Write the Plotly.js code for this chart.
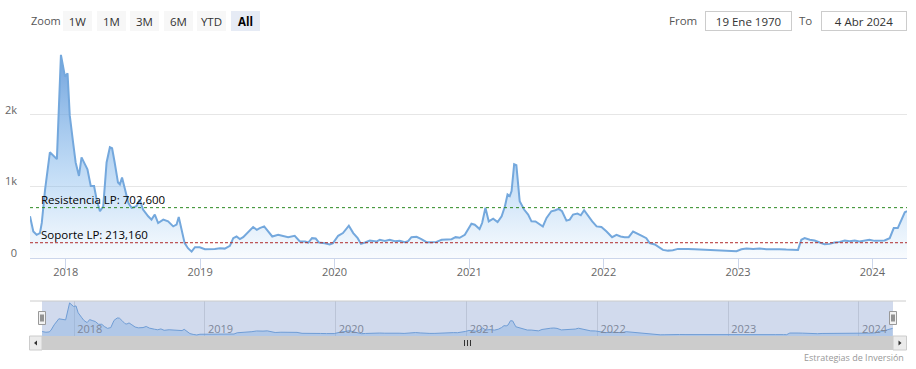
<!DOCTYPE html>
<html><head><meta charset="utf-8">
<script src="https://cdn.plot.ly/plotly-3.0.1.min.js"></script>
<style>html,body{margin:0;padding:0;background:#fff;}#chart{width:916px;height:369px;}</style>
</head><body><div id="chart"></div>
<script>
const dates = [
'2017-09-26','2017-10-05','2017-10-14','2017-10-23','2017-10-28','2017-11-06','2017-11-19','2017-11-28','2017-12-08','2017-12-19',
'2017-12-25','2017-12-30','2018-01-06','2018-01-12','2018-01-21','2018-01-28','2018-02-06','2018-02-13','2018-02-22','2018-03-01',
'2018-03-10','2018-03-19','2018-03-26','2018-04-04','2018-04-13','2018-04-22','2018-05-01','2018-05-07','2018-05-14','2018-05-23',
'2018-05-28','2018-06-03','2018-06-11','2018-06-20','2018-06-29','2018-07-12','2018-07-21','2018-07-30','2018-08-13','2018-08-22',
'2018-08-31','2018-09-09','2018-09-23','2018-10-06','2018-10-20','2018-10-29','2018-11-04','2018-11-11','2018-11-20','2018-11-29',
'2018-12-09','2018-12-18','2018-12-31','2019-01-14','2019-01-23','2019-02-10','2019-02-24','2019-03-09','2019-03-23','2019-04-01',
'2019-04-10','2019-04-19','2019-04-28','2019-05-12','2019-05-25','2019-06-04','2019-06-12','2019-06-24','2019-07-05','2019-07-16',
'2019-08-01','2019-08-15','2019-08-28','2019-09-15','2019-09-29','2019-10-13','2019-10-22','2019-11-01','2019-11-11','2019-11-20',
'2019-12-06','2019-12-19','2019-12-28','2020-01-11','2020-01-24','2020-02-09','2020-02-21','2020-03-04','2020-03-13','2020-03-24',
'2020-04-06','2020-04-24','2020-05-03','2020-05-17','2020-05-30','2020-06-13','2020-06-26','2020-07-10','2020-07-19','2020-07-28',
'2020-08-11','2020-08-24','2020-09-07','2020-09-20','2020-10-04','2020-10-18','2020-10-31','2020-11-14','2020-11-25','2020-12-06',
'2020-12-20','2020-12-29','2021-01-07','2021-01-16','2021-01-29','2021-02-05','2021-02-14','2021-02-23','2021-03-07','2021-03-19',
'2021-03-30','2021-04-08','2021-04-15','2021-04-21','2021-04-26','2021-05-03','2021-05-09','2021-05-18','2021-05-30','2021-06-10',
'2021-06-19','2021-06-30','2021-07-11','2021-07-20','2021-07-30','2021-08-12','2021-08-23','2021-09-01','2021-09-10','2021-09-22',
'2021-10-01','2021-10-10','2021-10-22','2021-10-31','2021-11-09','2021-11-20','2021-12-01','2021-12-13','2021-12-26','2022-01-09',
'2022-01-24','2022-02-05','2022-02-16','2022-02-27','2022-03-10','2022-03-22','2022-04-03','2022-04-15','2022-04-27','2022-05-06',
'2022-05-20','2022-06-02','2022-06-11','2022-06-25','2022-07-08','2022-07-22','2022-08-05','2022-08-18','2022-09-05','2022-09-24',
'2022-10-12','2022-11-03','2022-11-21','2022-12-09','2022-12-28','2023-01-10','2023-01-24','2023-02-11','2023-03-01','2023-03-19',
'2023-04-06','2023-04-24','2023-05-12','2023-06-04','2023-06-13','2023-06-22','2023-07-01','2023-07-15','2023-07-28','2023-08-11',
'2023-08-24','2023-09-07','2023-09-20','2023-10-04','2023-10-18','2023-10-31','2023-11-14','2023-11-27','2023-12-11','2023-12-24',
'2024-01-07','2024-01-21','2024-02-03','2024-02-17','2024-02-28','2024-03-10','2024-03-20','2024-03-29','2024-04-04'
];
const values = [
582,370,324,348,490,958,1475,1427,1380,2835,
2648,2530,2577,1990,1615,1333,1145,1404,1310,1239,
1004,1004,817,652,723,1333,1545,1531,1333,1052,
1028,1122,958,770,700,723,817,676,582,535,
606,488,535,511,441,465,573,394,207,137,
89,150,150,122,122,127,136,131,169,277,
300,263,291,370,432,394,418,441,370,300,
324,310,291,310,230,230,216,277,272,216,
207,188,207,310,348,451,348,277,197,216,
244,230,254,239,254,235,239,221,235,291,
296,263,221,221,225,254,254,263,291,282,
324,394,479,465,404,488,700,511,549,502,
582,723,887,864,934,1310,1296,793,676,606,
511,510,470,440,559,652,666,686,652,521,
535,606,620,596,666,582,511,441,432,370,
291,324,300,291,291,370,334,310,277,207,
188,150,113,103,108,127,131,127,122,117,
113,113,108,103,94,122,131,127,131,122,
127,122,117,117,113,254,277,254,244,216,
193,197,216,225,244,235,244,230,244,254,
239,244,244,277,418,418,535,638,652
];
const years = ['2018','2019','2020','2021','2022','2023','2024'];
const resistance = 702.6, support = 213.16;
const resistanceLabel = 'Resistencia LP: 702,600';
const supportLabel = 'Soporte LP: 213,160';
const zoomButtons = ['1W','1M','3M','6M','YTD','All'];
const zoomLabel = 'Zoom';
const fromLabel = 'From', toLabel = 'To';
const fromText = '19 Ene 1970', toText = '4 Abr 2024';
const credit = 'Estrategias de Inversión';
const navRange = ['2017-10-03','2024-04-05'];

const W=916,H=369,L=30,R=9,T=43,B=33;
const PW=W-L-R, PH=H-T-B;
const px = x => (x-L)/PW;
const py = y => (H-B-y)/PH;
const FONT = '"Open Sans", "DejaVu Sans", sans-serif';
const yearTicks = years.map(y => y+'-01-01');

const main = {
  x: dates, y: values, type:'scatter', mode:'lines', xaxis:'x', yaxis:'y',
  line:{color:'#74a8dd', width:2},
  fill:'tozeroy',
  fillgradient:{type:'vertical', start:0, stop:3000,
    colorscale:[[0,'rgba(124,181,236,0.05)'],[0.35,'rgba(124,181,236,0.42)'],[1,'rgba(95,150,215,0.95)']]},
  hoverinfo:'skip'
};
const nav = {
  x: dates, y: values, type:'scatter', mode:'lines', xaxis:'x2', yaxis:'y2',
  line:{color:'#74a8dd', width:1}, fill:'tozeroy', fillcolor:'rgba(124,181,236,0.35)', hoverinfo:'skip'
};

const shapes = [
  {type:'line', xref:'paper', yref:'y', x0:0, x1:1, y0:resistance, y1:resistance, line:{color:'#2d8a22', width:1, dash:'dot'}},
  {type:'line', xref:'paper', yref:'y', x0:0, x1:1, y0:support, y1:support, line:{color:'#b02a2a', width:1, dash:'3px,2px'}},
  {type:'rect', xref:'paper', yref:'paper', x0:px(42), x1:px(893), y0:py(336), y1:py(301), fillcolor:'rgba(102,133,194,0.3)', line:{width:0}, layer:'above'},
  {type:'line', xref:'paper', yref:'paper', x0:px(30), x1:px(906), y0:py(301), y1:py(301), line:{color:'#cccccc', width:1}},
  {type:'rect', xref:'paper', yref:'paper', x0:px(42), x1:px(893), y0:py(350), y1:py(336), fillcolor:'#cccccc', line:{width:0}},
  {type:'rect', xref:'paper', yref:'paper', x0:px(29.5), x1:px(42), y0:py(350), y1:py(336), fillcolor:'#ebebeb', line:{color:'#cccccc', width:1}},
  {type:'rect', xref:'paper', yref:'paper', x0:px(893), x1:px(906.5), y0:py(350), y1:py(336), fillcolor:'#ebebeb', line:{color:'#cccccc', width:1}},
  {type:'path', xref:'paper', yref:'paper', path:`M ${px(34)} ${py(343)} L ${px(37)} ${py(340.5)} L ${px(37)} ${py(345.5)} Z`, fillcolor:'#333', line:{width:0}},
  {type:'path', xref:'paper', yref:'paper', path:`M ${px(901.5)} ${py(343)} L ${px(898.5)} ${py(340.5)} L ${px(898.5)} ${py(345.5)} Z`, fillcolor:'#333', line:{width:0}},
  {type:'rect', xref:'paper', yref:'paper', x0:px(38.5), x1:px(45.5), y0:py(324.5), y1:py(311.5), fillcolor:'#f2f2f2', line:{color:'#999', width:1}, layer:'above'},
  {type:'rect', xref:'paper', yref:'paper', x0:px(889.5), x1:px(896.5), y0:py(324.5), y1:py(311.5), fillcolor:'#f2f2f2', line:{color:'#999', width:1}, layer:'above'}
];
[464.5,467.5,470.5].forEach(x => shapes.push({type:'line', xref:'paper', yref:'paper', x0:px(x), x1:px(x), y0:py(346), y1:py(340), line:{color:'#333', width:1}}));
[41,43,892,894].forEach(x => shapes.push({type:'line', xref:'paper', yref:'paper', x0:px(x), x1:px(x), y0:py(321.5), y1:py(314.5), line:{color:'#333', width:1}, layer:'above'}));

const annotations = [
  {xref:'paper', yref:'y', x:px(39), y:resistance, xanchor:'left', yanchor:'bottom', text:resistanceLabel, showarrow:false, font:{family:FONT, size:11.5, color:'#000'}, yshift:-1},
  {xref:'paper', yref:'y', x:px(39), y:support, xanchor:'left', yanchor:'bottom', text:supportLabel, showarrow:false, font:{family:FONT, size:11.5, color:'#000'}, yshift:-1},
  {xref:'paper', yref:'paper', x:px(29), y:py(21), xanchor:'left', yanchor:'middle', text:zoomLabel, showarrow:false, font:{family:FONT, size:11, color:'#555'}},
  {xref:'paper', yref:'paper', x:px(699), y:py(21), xanchor:'right', yanchor:'middle', text:fromLabel, showarrow:false, font:{family:FONT, size:11.5, color:'#555'}},
  {xref:'paper', yref:'paper', x:px(814), y:py(21), xanchor:'right', yanchor:'middle', text:toLabel, showarrow:false, font:{family:FONT, size:11.5, color:'#555'}},
  {xref:'paper', yref:'paper', x:px(748), y:py(21.5), xanchor:'center', yanchor:'middle', text:fromText, showarrow:false, width:85, height:18, bgcolor:'#fff', bordercolor:'#cccccc', borderwidth:1, borderpad:0, font:{family:FONT, size:11.5, color:'#333'}},
  {xref:'paper', yref:'paper', x:px(863.5), y:py(21.5), xanchor:'center', yanchor:'middle', text:toText, showarrow:false, width:84, height:18, bgcolor:'#fff', bordercolor:'#cccccc', borderwidth:1, borderpad:0, font:{family:FONT, size:11.5, color:'#333'}},
  {xref:'paper', yref:'paper', x:px(906), y:py(357), xanchor:'right', yanchor:'middle', text:credit, showarrow:false, font:{family:FONT, size:9, color:'#999'}}
];
zoomButtons.forEach((b,i) => {
  const active = b === 'All';
  annotations.push({xref:'paper', yref:'paper', x:px(77.5 + i*33.5), y:py(21.5), xanchor:'center', yanchor:'middle',
    text: active ? '<b>'+b+'</b>' : b, showarrow:false, width:29, height:20, borderpad:0, borderwidth:0,
    bgcolor: active ? '#e6ebf5' : '#f7f7f7', font:{family:FONT, size:11.5, color: active ? '#000' : '#333'}});
});

const layout = {
  width:W, height:H, margin:{l:L, r:R, t:T, b:B, pad:0},
  paper_bgcolor:'#fff', plot_bgcolor:'rgba(0,0,0,0)', showlegend:false,
  font:{family:FONT, size:11, color:'#666'},
  xaxis:{domain:[0,1], anchor:'y', type:'date', range:[dates[0], dates[dates.length-1]],
    tickvals:yearTicks, ticktext:years, ticks:'outside', ticklen:10, tickcolor:'#ccd6eb', tickwidth:1,
    ticklabelstandoff:-6,
    showgrid:false, showline:true, linecolor:'#ccd6eb', zeroline:false, tickfont:{size:11, color:'#666'}},
  yaxis:{domain:[py(258),1], anchor:'x', range:[0,3000], tickvals:[0,1000,2000,3000], ticktext:['0','1k','2k',''],
    showgrid:true, gridcolor:'#e6e6e6', gridwidth:1.5, zeroline:false, ticks:'', ticklabelshift:-5, ticklabelstandoff:12,
    tickfont:{size:11, color:'#666'}},
  xaxis2:{domain:[px(42), px(893)], anchor:'y2', type:'date', range:navRange,
    tickvals:yearTicks, ticktext:years, ticklabelposition:'inside right', ticks:'', showgrid:true, gridcolor:'#e0e0e0',
    ticklabelshift:3, ticklabelstandoff:-5,
    showline:false, zeroline:false, tickfont:{size:11, color:'#888'}},
  yaxis2:{domain:[0, py(301)], anchor:'x2', range:[0,3000], visible:false, showgrid:false, zeroline:false},
  shapes, annotations, hovermode:false
};
Plotly.newPlot('chart', [main, nav], layout, {staticPlot:true, displayModeBar:false});
</script></body></html>
